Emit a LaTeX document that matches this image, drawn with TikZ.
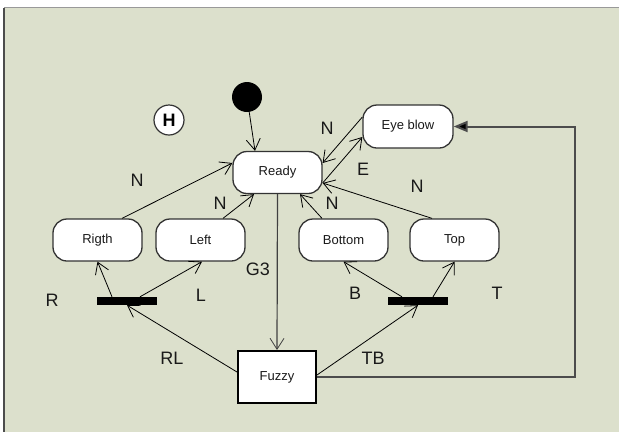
\documentclass[tikz,border=0pt]{standalone}
\usepackage{fontspec}
\setmainfont{Liberation Sans}
\usetikzlibrary{arrows.meta}
\definecolor{panel}{RGB}{220,224,204}
\definecolor{edge}{RGB}{51,51,51}
\definecolor{txt}{RGB}{25,25,25}
\tikzset{
  state/.style={draw=edge, line width=1.3pt, fill=white, rounded corners=14pt,
    minimum width=89pt, minimum height=42pt, inner sep=0pt,
    font=\fontsize{13}{15}\selectfont, text=txt},
  barnode/.style={fill=black, draw=none, minimum width=60pt, minimum height=8pt, inner sep=0pt},
  lbl/.style={font=\fontsize{18}{20}\selectfont, text=txt, inner sep=0pt},
  trans/.style={line width=0.8pt, -{Straight Barb[length=11pt,width=14pt,line width=0.8pt]}},
}
\begin{document}
\begin{tikzpicture}[x=1pt, y=-1pt]
\useasboundingbox (0,0) rectangle (619,432);
% page and panel
\fill[white] (0,0) rectangle (619,432);
\fill[panel] (4,7.5) rectangle (619,432);
\draw[gray!80, line width=1.5pt] (4,7.5) -- (619,7.5);
\draw[black!70, line width=1.5pt] (4,7.5) -- (4,432);

% states
\node[circle, fill=black, minimum size=30pt, inner sep=0pt] (init) at (247,97) {};
\node[circle, draw=edge, line width=1.2pt, fill=white, minimum size=30pt, inner sep=0pt,
      font=\fontsize{18}{20}\selectfont\bfseries] (hist) at (169,120) {H};
\node[state] (ready) at (277.5,172.5) {Ready};
\node[state, minimum width=90pt, minimum height=43pt] (eye) at (408,126.5) {Eye blow};
\node[state] (rigth) at (97.5,240) {Rigth};
\node[state] (left) at (200.5,240) {Left};
\node[state] (bottom) at (343.5,240) {Bottom};
\node[state] (top) at (454.5,240) {Top};
\node[barnode] (barL) at (127,301) {};
\node[barnode] (barR) at (418,301) {};
\node[draw=black, line width=2pt, fill=white, minimum width=78pt, minimum height=52pt,
      inner sep=0pt, font=\fontsize{13}{15}\selectfont, text=txt] (fuzzy) at (277,377) {Fuzzy};

% transitions
\draw[trans] (init) -- ([xshift=-22.5pt]ready.north);
\draw[trans] ([xshift=24.5pt]rigth.north) -- ([yshift=9.5pt]ready.west);
\draw[trans] ([xshift=22.5pt]left.north) -- ([xshift=-23.5pt]ready.south);
\draw[trans] ([xshift=-21.5pt]bottom.north) -- ([xshift=22.5pt]ready.south);
\draw[trans] ([xshift=-22.5pt]top.north) -- ([yshift=-10.5pt]ready.east);
\draw[trans] ([yshift=9.5pt]eye.west) -- ([yshift=9.5pt]ready.east);
\draw[trans] ([yshift=-10.5pt]ready.east) -- ([yshift=-10.5pt]eye.west);
\draw[trans, draw=black!75, line width=1.2pt] (ready.south) -- (fuzzy.north);
\draw[trans] ([yshift=5pt]fuzzy.west) -- (barL.south);
\draw[trans] ([yshift=2pt]fuzzy.east) -- (barR.south);
\draw[trans] ([xshift=-15pt]barL.north) -- (rigth.south);
\draw[trans] ([xshift=13pt]barL.north) -- ([xshift=1.5pt]left.south);
\draw[trans] ([xshift=-16pt]barR.north) -- (bottom.south);
\draw[trans] ([xshift=15pt]barR.north) -- (top.south);

% return path from Fuzzy to Eye blow
\coordinate (loopA) at (575,377);
\coordinate (loopB) at (575,126.5);
\draw[draw=black!70, line width=2pt, -{Triangle[length=14pt,width=11pt,fill=black]}]
  (fuzzy.east) -- (loopA) -- (loopB) -- (eye.east);

% labels
\node[lbl] (nR) at (137,180) {N};
\node[lbl] (nL) at (220,203) {N};
\node[lbl] (nB) at (332,203) {N};
\node[lbl] (nT) at (417,186) {N};
\node[lbl] (nE) at (327,128) {N};
\node[lbl] (e) at (363,169) {E};
\node[lbl] (g3) at (258,269) {G3};
\node[lbl] (r) at (52,300) {R};
\node[lbl] (l) at (201,295) {L};
\node[lbl] (b) at (355,293) {B};
\node[lbl] (t) at (497,293) {T};
\node[lbl] (tb) at (373,358) {TB};
\node[lbl] (rl) at (172,358) {RL};
\end{tikzpicture}
\end{document}
